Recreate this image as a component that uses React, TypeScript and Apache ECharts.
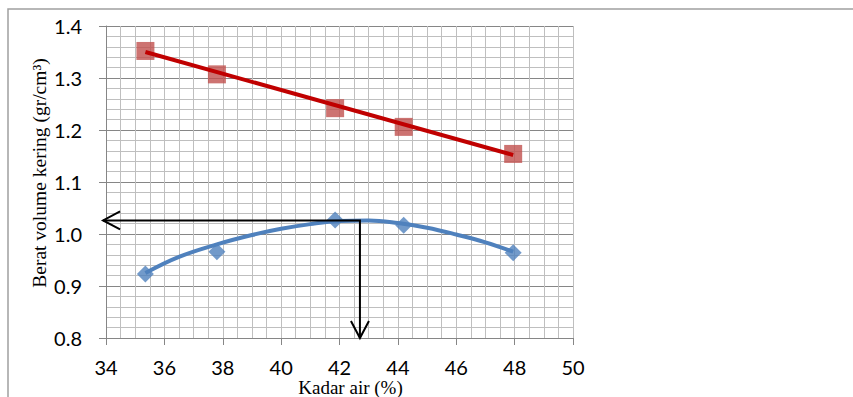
import React, { useEffect, useRef } from "react";
import * as echarts from "echarts";

// Moisture content (Kadar air, %) of each test point
const moisture = [35.35, 37.8, 41.85, 44.2, 47.95];
// Upper series (red squares)
const densityUpper = [1.352, 1.307, 1.242, 1.206, 1.154];
// Lower series (blue diamonds)
const densityLower = [0.923, 0.966, 1.027, 1.017, 0.964];

// Linear trend line of the upper series
const upperTrendX = [35.35, 47.95];
const upperTrendY = [1.35, 1.152];

// Curved trend line of the lower series
const lowerTrendX = [35.35, 36.5, 37.8, 39, 40, 41, 42, 43, 44, 45, 46, 47, 47.95];
const lowerTrendY = [0.925, 0.956, 0.98, 0.998, 1.01, 1.019, 1.025, 1.026, 1.021, 1.012, 0.999, 0.984, 0.966];

// Reading arrows: from the axis (left tip) to the corner and down to the x axis
const arrowX = [33.9, 42.7, 42.7];
const arrowY = [1.026, 1.026, 0.8];

const zip = (xs: number[], ys: number[]) => xs.map((x, i) => [x, ys[i]]);

const tickFont = "Lato, 'Open Sans', sans-serif";
const serifFont = "'Liberation Serif', 'DejaVu Serif', serif";

export default function App() {
  const ref = useRef<HTMLDivElement>(null);

  useEffect(() => {
    document.body.style.margin = "0";
    if (!ref.current) return;
    const chart = echarts.init(ref.current, null, { renderer: "svg" });

    const head = (tip: number[], from: number[]) => {
      const dx = tip[0] - from[0];
      const dy = tip[1] - from[1];
      const len = Math.hypot(dx, dy) || 1;
      const ux = dx / len;
      const uy = dy / len;
      const L = 17;
      const W = 9;
      return [
        [tip[0] - L * ux - W * uy, tip[1] - L * uy + W * ux],
        [tip[0], tip[1]],
        [tip[0] - L * ux + W * uy, tip[1] - L * uy - W * ux],
      ];
    };

    chart.setOption({
      animation: false,
      backgroundColor: "#ffffff",
      graphic: [
        {
          type: "rect",
          shape: { x: 8, y: 9, width: 900, height: 450 },
          style: { fill: "none", stroke: "#a0a0a0", lineWidth: 1.5 },
          silent: true,
          z: -10,
        },
      ],
      grid: {
        left: 106,
        right: 280,
        top: 26,
        bottom: 59,
        containLabel: false,
        outerBoundsMode: "none",
      },
      xAxis: {
        type: "value",
        min: 34,
        max: 50,
        interval: 2,
        name: "Kadar air (%)",
        nameLocation: "middle",
        nameGap: 40,
        nameMoveOverlap: false,
        nameTextStyle: {
          fontFamily: serifFont,
          fontSize: 19,
          color: "#000",
          padding: [0, 0, 0, 22],
        },
        axisLine: { show: true, onZero: false, lineStyle: { color: "#868686", width: 1 } },
        axisTick: { show: true, inside: false, length: 7, lineStyle: { color: "#868686" } },
        axisLabel: {
          fontFamily: tickFont,
          fontSize: 20,
          color: "#000",
          margin: 19,
        },
        splitLine: { show: true, lineStyle: { color: "#bfbfbf", width: 1 } },
        minorTick: { show: false, splitNumber: 4 },
        minorSplitLine: { show: true, lineStyle: { color: "#bfbfbf", width: 1 } },
      },
      yAxis: {
        type: "value",
        min: 0.8,
        max: 1.4,
        interval: 0.1,
        name: "Berat volume kering (gr/cm³)",
        nameLocation: "middle",
        nameGap: 57,
        nameMoveOverlap: false,
        nameRotate: 90,
        nameTextStyle: {
          fontFamily: serifFont,
          fontSize: 19.5,
          color: "#000",
          padding: [0, 0, 0, 18],
        },
        axisLine: { show: true, onZero: false, lineStyle: { color: "#868686", width: 1 } },
        axisTick: { show: true, inside: false, length: 7, lineStyle: { color: "#868686" } },
        axisLabel: {
          fontFamily: tickFont,
          fontSize: 20,
          color: "#000",
          margin: 24,
          formatter: (v: number) => v.toFixed(1),
        },
        splitLine: { show: true, lineStyle: { color: "#868686", width: 1 } },
        minorTick: { show: false, splitNumber: 5 },
        minorSplitLine: { show: true, lineStyle: { color: "#bfbfbf", width: 1 } },
      },
      series: [
        {
          type: "scatter",
          data: zip(moisture, densityUpper),
          symbol: "rect",
          symbolSize: 18,
          itemStyle: { color: "#c0504d" },
          z: 3,
        },
        {
          type: "scatter",
          data: zip(moisture, densityLower),
          symbol: "diamond",
          symbolSize: 17,
          itemStyle: { color: "#4f81bd" },
          z: 3,
        },
        {
          type: "line",
          data: zip(upperTrendX, upperTrendY),
          symbol: "none",
          lineStyle: { color: "#c00000", width: 4 },
          z: 4,
        },
        {
          type: "line",
          data: zip(lowerTrendX, lowerTrendY),
          symbol: "none",
          smooth: 0.4,
          lineStyle: { color: "#4f81bd", width: 4 },
          z: 4,
        },
        {
          type: "custom",
          coordinateSystem: "cartesian2d",
          clip: false,
          z: 6,
          data: zip(arrowX, arrowY),
          renderItem: (params: any, api: any) => {
            if (params.dataIndex !== 0) return null;
            const pts = arrowX.map((x, i) => api.coord([x, arrowY[i]]));
            const style = { stroke: "#000", lineWidth: 2, fill: "none" };
            return {
              type: "group",
              children: [
                { type: "polyline", shape: { points: pts }, style },
                { type: "polyline", shape: { points: head(pts[0], pts[1]) }, style },
                { type: "polyline", shape: { points: head(pts[2], pts[1]) }, style },
              ],
            };
          },
        },
      ],
    });

    return () => chart.dispose();
  }, []);

  return <div ref={ref} style={{ width: 853, height: 397 }} />;
}
